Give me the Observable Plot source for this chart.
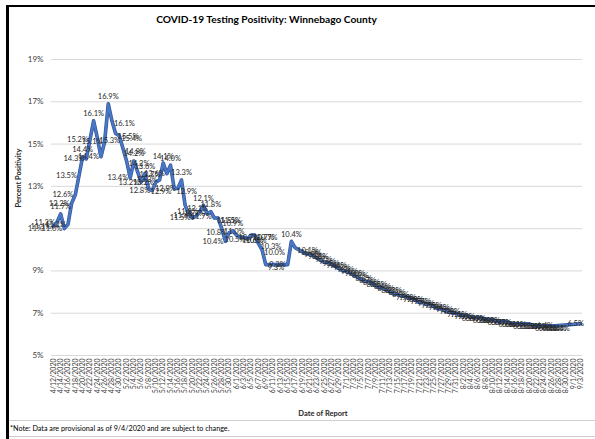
<!DOCTYPE html>
<html>
<head>
<meta charset="utf-8">
<script src="https://cdn.jsdelivr.net/npm/d3@7"></script>
<script src="https://cdn.jsdelivr.net/npm/@observablehq/plot@0.6"></script>
<style>
  html, body { margin: 0; padding: 0; background: #fff; }
  #wrap { position: relative; width: 595px; height: 439px; overflow: hidden; font-family: Lato, "Open Sans", sans-serif; }
  #frameTop { position: absolute; left: 6px; top: 5px; width: 600px; height: 2px; background: #000; }
  #frameLeft { position: absolute; left: 6px; top: 5px; width: 3px; height: 440px; background: #000; }
  #title { position: absolute; top: 13px; left: 9px; width: 515px; text-align: center; font-weight: bold; font-size: 10.2px; color: #000; }
  #chart { position: absolute; left: 0; top: 30px; }
  #sep1 { position: absolute; left: 9px; top: 420px; width: 590px; height: 1px; background: #cfcfcf; }
  #sep2 { position: absolute; left: 9px; top: 436px; width: 590px; height: 1px; background: #cfcfcf; }
  #note { position: absolute; left: 10px; top: 424px; font-size: 7.2px; color: #000; }
</style>
</head>
<body>
<div id="wrap">
  <div id="frameTop"></div>
  <div id="frameLeft"></div>
  <div id="title">COVID-19 Testing Positivity: Winnebago County</div>
  <div id="chart"></div>
  <div id="sep1"></div>
  <div id="sep2"></div>
  <div id="note">*Note: Data are provisional as of 9/4/2020 and are subject to change.</div>
</div>
<script>
// Categories: consecutive report dates 4/12/2020 .. 9/3/2020
const startDate = new Date(Date.UTC(2020, 3, 12));
const endDate = new Date(Date.UTC(2020, 8, 4));
const fmt = d => `${d.getUTCMonth() + 1}/${d.getUTCDate()}/${d.getUTCFullYear()}`;
const dates = d3.utcDay.range(startDate, endDate).map(fmt);

// Percent positivity per date (null = no report that day)
const positivity = [
  11.1, 11.3, 11.7, 11.0, 11.2, 12.2, 12.6, 13.5, 14.4, 14.3, // 4/12-4/21
  15.2, 16.1, 15.3, 14.4, 15.1, 16.9, 16.1, 15.5, 15.4, 14.8, // 4/22-5/1
  14.2, 13.4, 14.2, 13.7, 13.2, 13.6, 12.9, 12.8, 13.2, 13.3, // 5/2-5/11
  14.1, 13.6, 14.0, 12.9, 12.9, 13.3, 12.1, 11.7, 11.5, 11.6, // 5/12-5/21
  11.8, 12.1, 11.7, 11.8, 11.5, 11.5, 11.0, 10.4, 10.8, 10.9, // 5/22-5/31
  10.7, 10.6, 10.6, 10.5, 10.7, 10.7, 10.3, 10.0, 9.3, null,  // 6/1-6/10
  null, null, null, null, 9.3, 10.4, 10.1, 10.0, 9.9, 9.8,    // 6/11-6/20
  9.8, 9.7, 9.6, 9.5, 9.4, 9.4, 9.3, 9.2, 9.1, 9.0,           // 6/21-6/30
  9.0, 8.9, 8.8, 8.7, 8.6, 8.5, 8.5, 8.4, 8.3, 8.2,           // 7/1-7/10
  8.2, 8.1, 8.0, 7.9, 7.9, 7.8, 7.8, 7.7, 7.7, 7.6,           // 7/11-7/20
  7.5, 7.5, 7.4, 7.4, 7.3, 7.2, 7.2, 7.1, 7.1, 7.0,           // 7/21-7/30
  7.0, 6.9, 6.9, 6.9, 6.8, 6.8, 6.8, 6.8, 6.7, 6.7,           // 7/31-8/9
  6.7, 6.6, 6.6, 6.6, 6.6, 6.5, 6.5, 6.5, 6.5, 6.5,           // 8/10-8/19
  6.5, 6.4, 6.4, 6.4, 6.4, 6.4, 6.4, 6.4, null, null,         // 8/20-8/29
  null, null, null, null, 6.5                                 // 8/30-9/3
];

// Axis tick labels
const xTickLabels = dates.filter((d, i) => i % 2 === 0);
const yTicks = [5, 7, 9, 11, 13, 15, 17, 19];

const rows = dates.map((date, i) => ({date, value: positivity[i]}));
const reported = rows.filter(d => d.value != null);

// Label placement like the spreadsheet: peaks above, rising points to the left, falling points to the right
reported.forEach((d, i) => {
  const prev = i > 0 ? reported[i - 1].value : d.value;
  const next = i < reported.length - 1 ? reported[i + 1].value : d.value;
  if (i === reported.length - 1) d.pos = "end";
  else if (d.value > prev && d.value > next) d.pos = "above";
  else if (next > d.value) d.pos = "left";
  else d.pos = "right";
});
const label = d => d.value.toFixed(1) + "%";
const font = "Lato, 'Open Sans', sans-serif";

const chart = Plot.plot({
  width: 595,
  height: 389,
  marginTop: 29,
  marginBottom: 64,
  marginLeft: 51,
  marginRight: 13,
  style: {fontFamily: font, color: "#404040", background: "transparent"},
  x: {type: "point", domain: dates, padding: 0.5},
  y: {domain: [5, 19]},
  marks: [
    Plot.gridY(yTicks, {stroke: "#d9d9d9", strokeOpacity: 1}),
    Plot.axisY(yTicks, {tickSize: 0, tickPadding: 8, tickFormat: d => d + "%", fontSize: 8, label: null}),
    Plot.axisX(xTickLabels, {tickSize: 0, tickPadding: 3, tickRotate: -90, fontSize: 7, label: null}),
    Plot.text(["Date of Report"], {frameAnchor: "bottom", dx: 6, dy: 60, fontSize: 7.5, fontWeight: "bold", fill: "#262626"}),
    Plot.text(["Percent Positivity"], {frameAnchor: "left", dx: -33, rotate: -90, fontSize: 7.5, fontWeight: "bold", fill: "#262626"}),
    Plot.line(reported, {x: "date", y: "value", stroke: "#2f5597", strokeWidth: 3.6, strokeLinejoin: "round"}),
    Plot.line(reported, {x: "date", y: "value", stroke: "#4a76c6", strokeWidth: 2.4, strokeLinejoin: "round"}),
    Plot.text(reported.filter(d => d.pos === "above"), {x: "date", y: "value", text: label, dy: -7, fontSize: 7.5, fill: "#262626"}),
    Plot.text(reported.filter(d => d.pos === "left"), {x: "date", y: "value", text: label, dx: -2, textAnchor: "end", fontSize: 7.5, fill: "#262626"}),
    Plot.text(reported.filter(d => d.pos === "right"), {x: "date", y: "value", text: label, dx: 2, dy: 3, textAnchor: "start", fontSize: 7.5, fill: "#262626"}),
    Plot.text(reported.filter(d => d.pos === "end"), {x: "date", y: "value", text: label, dx: -5, fontSize: 7.5, fill: "#262626"})
  ]
});
document.getElementById("chart").appendChild(chart);
</script>
</body>
</html>
